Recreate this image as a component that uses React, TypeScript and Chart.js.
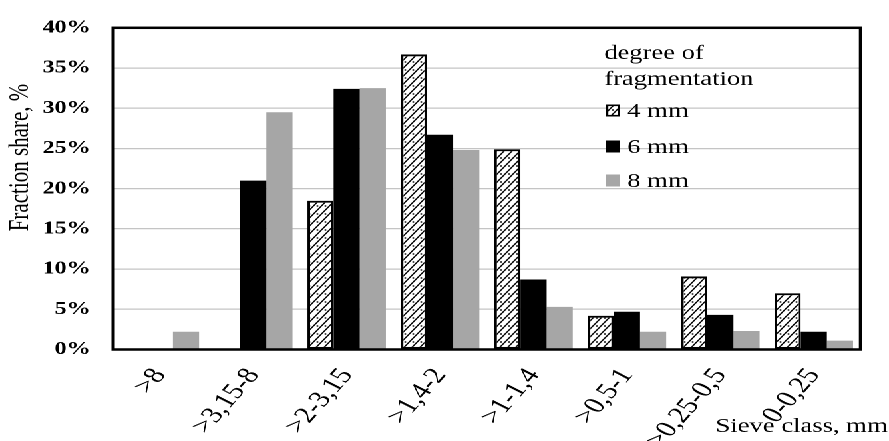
import React, { useEffect, useRef } from 'react';
import { Chart, registerables } from 'chart.js';
Chart.register(...registerables);

const categories = ['>8', '>3,15-8', '>2-3,15', '>1,4-2', '>1-1,4', '>0,5-1', '>0,25-0,5', '0-0,25'];
const series4mm = [0, 0, 18.5, 36.7, 24.9, 4.2, 9.1, 7.0];
const series6mm = [0, 21.0, 32.4, 26.7, 8.7, 4.7, 4.3, 2.2];
const series8mm = [2.2, 29.5, 32.5, 24.8, 5.3, 2.2, 2.3, 1.1];
const seriesLabels = ['4 mm', '6 mm', '8 mm'];
const legendTitle = ['degree of', 'fragmentation'];
const yMin = 0;
const yMax = 40;
const yStep = 5;
const xTitle = 'Sieve class, mm';
const yTitle = 'Fraction share, %';

const W = 668;
const H = 441;
const S = 889 / W;
const FONT = '"Liberation Serif", "Times New Roman", serif';
const GRAY = '#a6a6a6';

function makePattern(ctx: CanvasRenderingContext2D): CanvasPattern {
  const tw = 6, th = 8, r = 4;
  const c = document.createElement('canvas');
  c.width = tw * r;
  c.height = th * r;
  const g = c.getContext('2d')!;
  g.scale(r, r);
  g.fillStyle = '#fff';
  g.fillRect(0, 0, tw, th);
  g.strokeStyle = '#000';
  g.lineWidth = 1.1;
  for (const k of [-1, 0, 1]) {
    g.beginPath();
    g.moveTo(-tw + k * tw, 2 * th);
    g.lineTo(2 * tw + k * tw, -th);
    g.stroke();
  }
  g.fillStyle = '#000';
  g.beginPath();
  g.arc(0.75 * tw, 0.75 * th, 0.75, 0, Math.PI * 2);
  g.fill();
  const p = ctx.createPattern(c, 'repeat')!;
  p.setTransform(new DOMMatrix().scale(1 / r));
  return p;
}

export default function App() {
  const ref = useRef<HTMLCanvasElement>(null);
  useEffect(() => {
    document.body.style.margin = '0';
    document.body.style.overflow = 'hidden';
    const canvas = ref.current!;
    const ctx0 = canvas.getContext('2d')!;
    const pat = makePattern(ctx0);
    const fills = [pat, '#000', GRAY];

    const decor = {
      id: 'decor',
      afterDraw(chart: any) {
        const { ctx, chartArea: a } = chart;
        ctx.save();
        ctx.strokeStyle = '#000';
        ctx.lineWidth = 2.5;
        ctx.strokeRect(a.left, a.top, a.right - a.left, a.bottom - a.top);
        ctx.fillStyle = '#000';
        // y title
        ctx.save();
        ctx.font = `21px ${FONT}`;
        ctx.translate(15.5, 157.5);
        ctx.rotate(-Math.PI / 2);
        ctx.textAlign = 'center';
        ctx.textBaseline = 'middle';
        ctx.fillText(yTitle, 0, 0);
        ctx.restore();
        // x title
        ctx.font = `20px ${FONT}`;
        ctx.textAlign = 'right';
        ctx.textBaseline = 'alphabetic';
        ctx.fillText(xTitle, 667, 432);
        // legend
        ctx.textAlign = 'left';
        const lx = 454;
        ctx.fillText(legendTitle[0], lx, 59);
        ctx.fillText(legendTitle[1], lx, 85);
        const base = [117, 153, 187];
        seriesLabels.forEach((lab, i) => {
          const bx = 455.5, by = base[i] - 12.5, bw = 10.5, bh = 12;
          ctx.fillStyle = fills[i];
          ctx.fillRect(bx, by, bw, bh);
          if (i === 0) {
            ctx.strokeStyle = '#000';
            ctx.lineWidth = 1.6;
            ctx.strokeRect(bx + 0.8, by + 0.8, bw - 1.6, bh - 1.6);
          }
          ctx.fillStyle = '#000';
          ctx.fillText(lab, 471.4, base[i]);
        });
        ctx.restore();
      },
    };

    const chart = new Chart(canvas, {
      type: 'bar',
      data: {
        labels: categories,
        datasets: [
          { label: seriesLabels[0], data: series4mm, backgroundColor: pat as any, borderColor: '#000', borderWidth: 2, borderSkipped: false },
          { label: seriesLabels[1], data: series6mm, backgroundColor: '#000', borderWidth: 0 },
          { label: seriesLabels[2], data: series8mm, backgroundColor: GRAY, borderWidth: 0 },
        ],
      },
      options: {
        responsive: false,
        animation: false,
        devicePixelRatio: 2,
        datasets: { bar: { categoryPercentage: 0.84, barPercentage: 1 } },
        layout: { padding: { top: 20.5, right: 21.4, left: 0, bottom: 0 } },
        plugins: { legend: { display: false }, tooltip: { enabled: false } },
        scales: {
          x: {
            grid: { display: false, drawTicks: false },
            border: { display: false },
            ticks: {
              autoSkip: false,
              minRotation: 56,
              maxRotation: 56,
              padding: 14,
              color: '#000',
              font: { family: FONT, size: 23 },
            },
            afterFit: (s: any) => { s.height = 91.5; },
          },
          y: {
            min: yMin,
            max: yMax,
            grid: { color: '#c4c4c4', lineWidth: 1.3, drawTicks: false },
            border: { display: false },
            ticks: {
              stepSize: yStep,
              padding: 17,
              color: '#000',
              font: { family: FONT, size: 18, weight: 'bold' },
              callback: (v: any) => `${v}%`,
            },
            afterFit: (s: any) => { s.width = 85; },
          },
        },
      },
      plugins: [decor],
    });
    return () => chart.destroy();
  }, []);
  return (
    <div style={{ width: W, height: H, transform: `scaleX(${S})`, transformOrigin: '0 0', background: '#fff' }}>
      <canvas ref={ref} width={W} height={H} style={{ width: W, height: H, display: 'block' }} />
    </div>
  );
}
